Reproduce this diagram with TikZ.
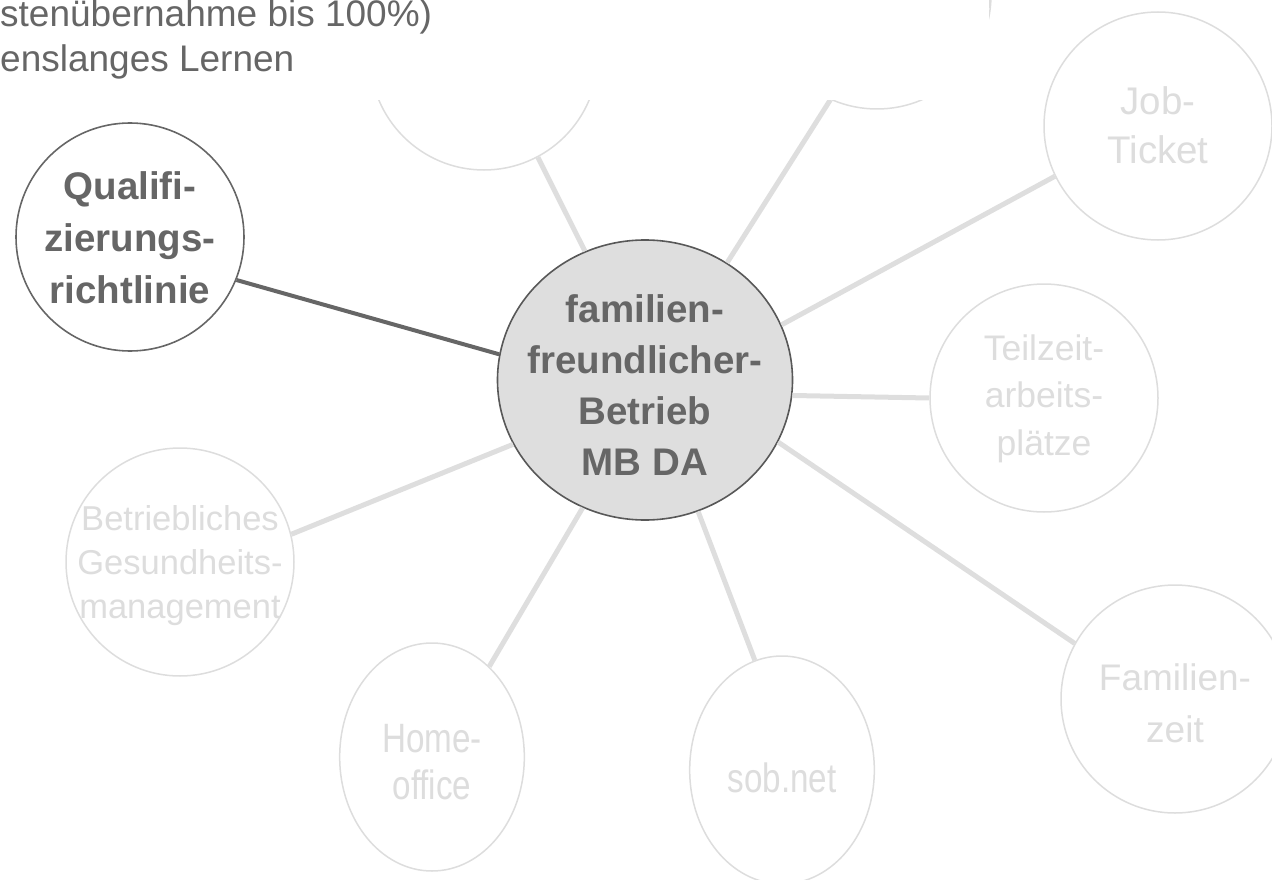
\documentclass[tikz,border=0pt]{standalone}
\usepackage{fontspec}
\setmainfont[Ligatures=NoCommon]{Liberation Sans}
\usetikzlibrary{shapes.geometric}
\definecolor{lightln}{HTML}{DEDEDE}
\definecolor{lighttx}{HTML}{DDDDDD}
\definecolor{darktx}{HTML}{666666}
\definecolor{cfill}{HTML}{DEDEDE}
\definecolor{cdraw}{HTML}{585858}
\begin{document}
\begin{tikzpicture}[x=1pt,y=-1pt,
  bub/.style={circle, minimum size=228pt, inner sep=0pt, draw=lighttx, line width=1.5pt, fill=white},
  qbub/.style={circle, minimum size=228pt, inner sep=0pt, draw=darktx, line width=1.6pt, fill=white},
  cbub/.style={ellipse, minimum width=295pt, minimum height=280pt, inner sep=0pt, draw=cdraw, line width=1.6pt, fill=cfill},
  lighttext/.style={inner sep=0pt, anchor=base, align=center, text=lighttx, font=\fontsize{37}{48}\selectfont},
  darktext/.style={inner sep=0pt, anchor=base, align=center, text=darktx, font=\bfseries\fontsize{38.5}{51}\selectfont},
  conn/.style={draw=lightln, line width=5pt},
  qconn/.style={draw=darktx, line width=4pt}]
\useasboundingbox (0,0) rectangle (1272,880);

% bubbles
\node[cbub] (c) at (645,380) {};
\node[qbub] (q) at (130,237) {};
\node[bub] (tl) at (484,56) {};
\node[bub] (tr) at (877,-5) {};
\node[bub] (job) at (1158,126) {};
\node[bub] (teil) at (1044,398) {};
\node[bub] (fam) at (1175,699) {};
\node[bub] (bgm) at (180,562) {};
\begin{scope}[shift={(432,757)}, xscale=0.81]
  \node[bub, transform shape] (home) at (0,0) {};
  \node[lighttext, transform shape, font=\fontsize{41}{47}\selectfont] (home-t) at (0,42) {Home-\\office};
\end{scope}
\begin{scope}[shift={(782,770)}, xscale=0.81]
  \node[bub, transform shape] (sob) at (0,0) {};
  \node[lighttext, transform shape, font=\fontsize{41}{47}\selectfont] (sob-t) at (0,22) {sob.net};
\end{scope}

% connectors
\draw[conn] (c.115.9) -- (tl.-62.8);
\draw[conn] (c.55.2) -- (tr.246);
\draw[conn] (c.22.2) -- (job.206.8);
\draw[conn] (c.-6.6) -- (teil.180);
\draw[conn] (c.-25.6) -- (fam.151.2);
\draw[conn] (c.-68.2) -- (sob.107.6);
\draw[conn] (c.244) -- (home.52);
\draw[conn] (c.206.6) -- (bgm.14.8);
\draw[qconn] (c.170.2) -- (q.-22);

% texts
\node[darktext] (c-t) at (645,475) {familien-\\freundlicher-\\Betrieb\\MB DA};
\node[darktext, font=\bfseries\fontsize{38.5}{52}\selectfont] (q-t) at (130,303) {Qualifi-\\zierungs-\\richtlinie};
\node[lighttext, font=\fontsize{38.5}{49}\selectfont] (job-t) at (1158,164) {Job-\\Ticket};
\node[lighttext, font=\fontsize{35.5}{47.5}\selectfont] (teil-t) at (1044,455) {Teilzeit-\\arbeits-\\plätze};
\node[lighttext, font=\fontsize{37}{52}\selectfont] (fam-t) at (1175,742) {Familien-\\zeit};
\node[lighttext, font=\fontsize{34.5}{44}\selectfont] (bgm-t) at (180,618) {Betriebliches\\Gesundheits-\\management};

% overlay box at the top
\fill[white] (0,0) rectangle (989,100);
\draw[draw=lighttx, line width=1pt] (989,0) coordinate (bx1) -- (989,8) coordinate (bx2);
\node[inner sep=0pt, anchor=base west, align=left, text=darktx, font=\fontsize{37}{45}\selectfont] (info) at (0,72) {stenübernahme bis 100\%)\\enslanges Lernen};
\end{tikzpicture}
\end{document}
